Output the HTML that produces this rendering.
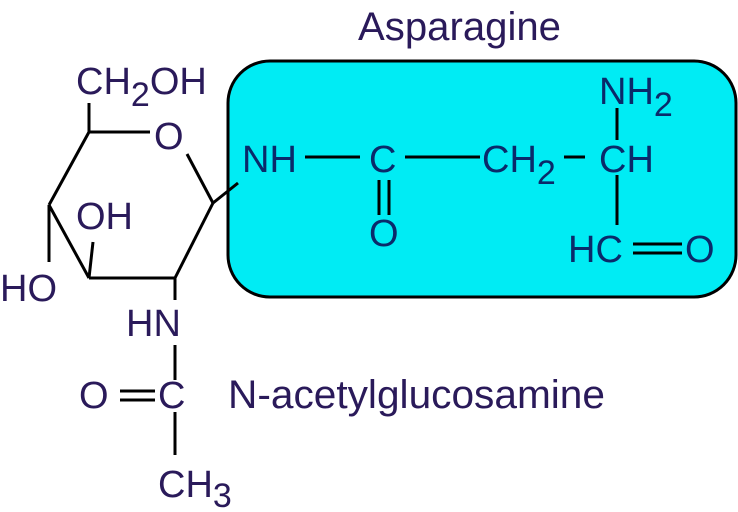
<!DOCTYPE html>
<html><head><style>html,body{margin:0;padding:0;background:#fff;width:738px;height:512px;overflow:hidden}</style></head>
<body>
<svg width="738" height="512" viewBox="0 0 738 512" xmlns="http://www.w3.org/2000/svg" font-family="Liberation Sans, Arial, sans-serif" font-size="38">
<rect x="228" y="61" width="508" height="236" rx="42" ry="42" fill="#00ecf4" stroke="#000" stroke-width="3"/>
<g stroke="#000" stroke-width="3" fill="none">
<line x1="89" y1="103" x2="89" y2="132"/>
<line x1="89" y1="132" x2="150" y2="132"/>
<line x1="187" y1="154" x2="213" y2="203"/>
<line x1="213" y1="203" x2="238" y2="183"/>
<line x1="213" y1="203" x2="175" y2="278"/>
<line x1="175" y1="278" x2="89" y2="278"/>
<line x1="89" y1="278" x2="93" y2="242"/>
<line x1="89" y1="278" x2="49" y2="205"/>
<line x1="49" y1="205" x2="49" y2="262"/>
<line x1="49" y1="205" x2="89" y2="132"/>
<line x1="175" y1="278" x2="175" y2="300"/>
<line x1="175" y1="345" x2="175" y2="380"/>
<line x1="175" y1="412" x2="175" y2="455"/>
<line x1="120" y1="391" x2="155" y2="391"/>
<line x1="120" y1="400" x2="155" y2="400"/>
<line x1="305" y1="157" x2="360" y2="157"/>
<line x1="405" y1="157" x2="480" y2="157"/>
<line x1="564" y1="157" x2="585" y2="157"/>
<line x1="379" y1="180" x2="379" y2="215"/>
<line x1="389" y1="180" x2="389" y2="215"/>
<line x1="617" y1="108" x2="617" y2="140"/>
<line x1="617" y1="175" x2="617" y2="225"/>
<line x1="633" y1="244" x2="682" y2="244"/>
<line x1="633" y1="253" x2="682" y2="253"/>
</g>
<g fill="#2a1a5a">
<text x="76" y="94">CH<tspan font-size="34" dy="12">2</tspan><tspan dy="-12">OH</tspan></text>
<text x="154" y="149">O</text>
<text x="76" y="229">OH</text>
<text x="0" y="301">HO</text>
<text x="126" y="336">HN</text>
<text x="79" y="408">O</text>
<text x="158" y="408">C</text>
<text x="158" y="497">CH<tspan font-size="34" dy="10">3</tspan></text>
<text x="228" y="408" textLength="377" lengthAdjust="spacingAndGlyphs" font-size="40">N-acetylglucosamine</text>
<text x="358" y="40" textLength="203" lengthAdjust="spacingAndGlyphs" font-size="40">Asparagine</text>
</g>
<g fill="#0a2a6a">
<text x="242" y="172">NH</text>
<text x="369" y="172">C</text>
<text x="369" y="246">O</text>
<text x="482" y="172">CH<tspan font-size="34" dy="12">2</tspan></text>
<text x="599" y="172">CH</text>
<text x="599" y="104">NH<tspan font-size="34" dy="12">2</tspan></text>
<text x="568" y="262">HC</text>
<text x="685" y="262">O</text>
</g>
</svg>
</body></html>
